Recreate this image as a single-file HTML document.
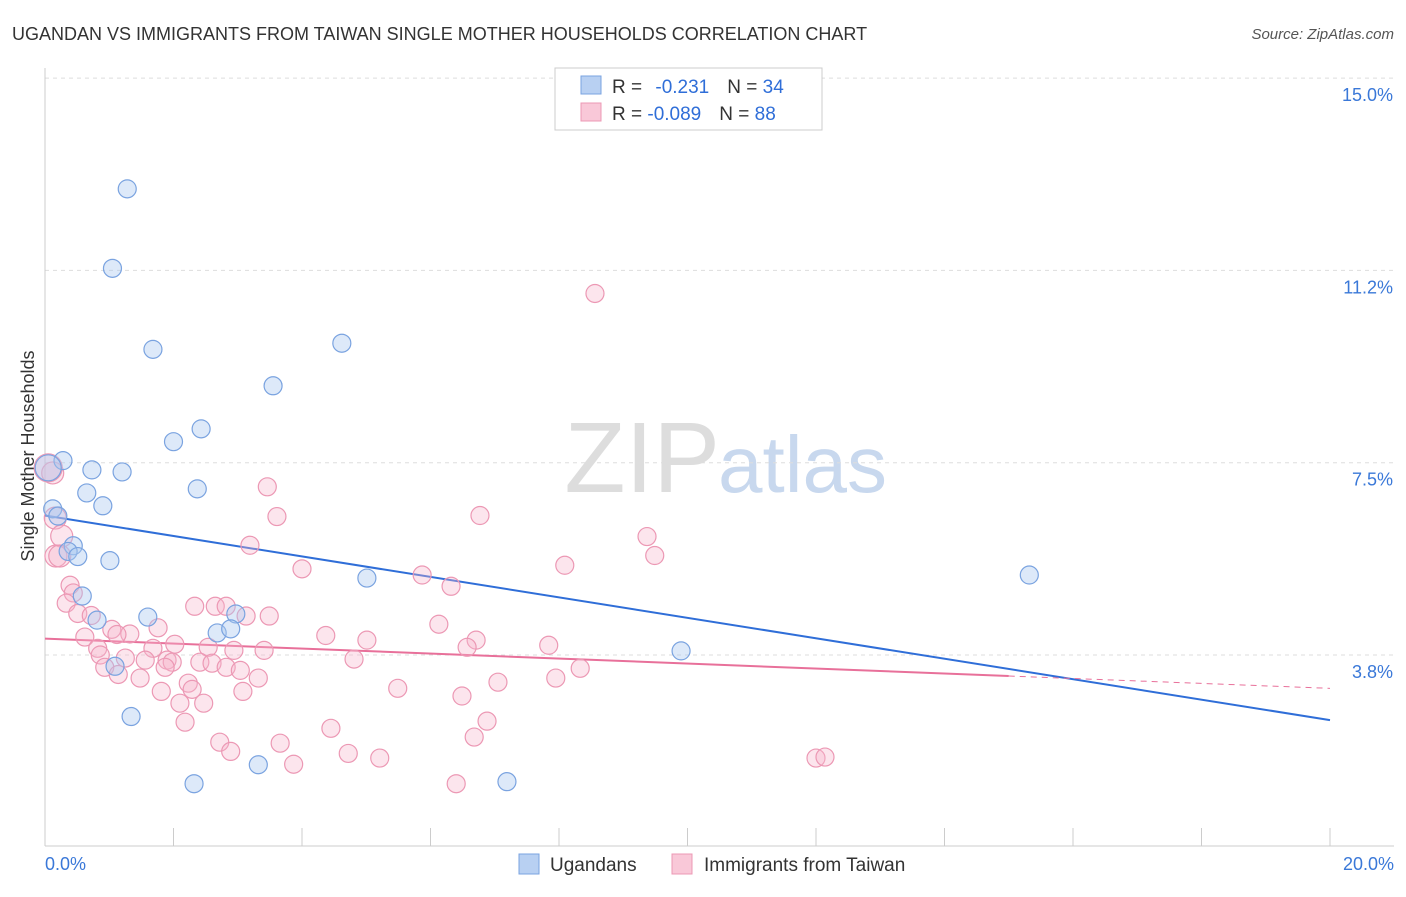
<!DOCTYPE html>
<html><head><meta charset="utf-8"><style>
body{margin:0;background:#fff;font-family:"Liberation Sans",sans-serif;}
svg text{font-family:"Liberation Sans",sans-serif;}
</style></head><body>
<svg id="chart" width="1406" height="892">
<text x="12" y="40" font-size="18" fill="#333">UGANDAN VS IMMIGRANTS FROM TAIWAN SINGLE MOTHER HOUSEHOLDS CORRELATION CHART</text>
<text x="1394" y="39" font-size="15" fill="#555" font-style="italic" text-anchor="end">Source: ZipAtlas.com</text>
<text x="720" y="492" font-size="100" fill="#ddd" text-anchor="end" font-family="Liberation Serif">ZIP</text>
<text x="718" y="492" font-size="80" fill="#c8d8ee">atlas</text>
<text x="34" y="456" font-size="18" fill="#333" text-anchor="middle" transform="rotate(-90 34 456)">Single Mother Households</text>
<g id="grid"></g><g id="axes"></g><g id="trend"></g><g id="pts"></g>
<g>
<rect x="555" y="68" width="267" height="62" fill="#fff" stroke="#ccc"/>
<rect x="581" y="76" width="20" height="18" fill="#b8d0f2" stroke="#7aa3e0"/>
<rect x="581" y="103" width="20" height="18" fill="#f9c8d8" stroke="#ec98b4"/>
<text x="612" y="93" font-size="19" fill="#333">R = <tspan fill="#2f6ed8" dx="8">-0.231</tspan><tspan dx="18" fill="#333">N = </tspan><tspan fill="#2f6ed8">34</tspan></text>
<text x="612" y="120" font-size="19" fill="#333">R = <tspan fill="#2f6ed8">-0.089</tspan><tspan dx="18" fill="#333">N = </tspan><tspan fill="#2f6ed8">88</tspan></text>
</g>
<g>
<rect x="519" y="854" width="20" height="20" fill="#b8d0f2" stroke="#7aa3e0"/>
<text x="550" y="871" font-size="19" fill="#333">Ugandans</text>
<rect x="672" y="854" width="20" height="20" fill="#f9c8d8" stroke="#ec98b4"/>
<text x="704" y="871" font-size="19" fill="#333">Immigrants from Taiwan</text>
</g>
</svg>
<script>
const xTicks=[0,2,4,6,8,10,12,14,16,18,20];
const yTicks=[3.75,7.5,11.25,15];
const yTickLabels=["3.8%","7.5%","11.2%","15.0%"];
const ugX=[1.28,1.05,1.68,4.62,3.55,2.43,2.0,0.28,0.73,1.2,2.37,0.65,0.9,0.12,0.2,0.44,0.36,0.51,1.01,5.01,15.32,0.58,1.6,0.81,2.97,2.68,2.89,1.09,9.9,1.34,3.32,2.32,7.19,0.05];
const ugY=[12.84,11.29,9.71,9.83,9.0,8.16,7.91,7.54,7.36,7.32,6.99,6.91,6.66,6.6,6.46,5.88,5.77,5.67,5.59,5.25,5.31,4.9,4.49,4.43,4.55,4.18,4.26,3.53,3.83,2.55,1.61,1.24,1.28,7.4];
const twX=[8.56,3.46,3.61,6.77,9.37,9.49,3.19,8.09,4.0,5.87,6.32,0.39,0.44,0.33,0.51,0.72,2.33,2.65,2.82,3.13,3.49,6.13,0.62,1.04,1.32,1.76,2.02,4.37,5.01,6.71,6.57,7.84,0.82,1.12,1.68,2.54,2.94,3.41,0.86,1.25,1.56,1.9,1.98,2.41,2.6,2.82,3.04,0.93,1.14,1.48,1.87,4.81,8.33,3.32,2.23,2.29,1.81,3.08,5.49,7.05,7.95,2.1,2.47,6.49,2.18,4.45,6.88,2.72,3.66,2.89,4.72,5.21,6.68,3.87,12.0,12.14,6.4,0.12,0.16,0.26,0.17,0.23,0.05];
const twY=[10.8,7.03,6.45,6.47,6.06,5.69,5.89,5.5,5.43,5.31,5.09,5.11,4.96,4.76,4.56,4.52,4.7,4.7,4.7,4.51,4.51,4.35,4.1,4.25,4.16,4.28,3.96,4.13,4.04,4.04,3.9,3.94,3.88,4.15,3.88,3.9,3.84,3.84,3.75,3.69,3.65,3.65,3.61,3.61,3.59,3.51,3.45,3.51,3.37,3.3,3.51,3.67,3.49,3.3,3.2,3.08,3.04,3.04,3.1,3.22,3.3,2.81,2.81,2.95,2.44,2.32,2.46,2.05,2.03,1.87,1.83,1.74,2.15,1.62,1.74,1.76,1.24,7.3,6.42,6.07,5.68,5.68,7.4];
const ugTrend=[6.47,2.48];
const twTrend=[4.07,3.34,3.1];
const NS="http://www.w3.org/2000/svg";
const X=v=>45+v*64.25, Y=v=>655-(v-3.75)*51.28;
function mk(t,a,p){const e=document.createElementNS(NS,t);for(const k in a)e.setAttribute(k,a[k]);document.getElementById(p).appendChild(e);return e;}
yTicks.forEach((t,i)=>{
 const g=mk('line',{x1:45,x2:1394,y1:Y(t),y2:Y(t),stroke:'#ddd','stroke-dasharray':'4,4'},'grid');
 
 
 const l=mk('text',{x:1393,y:Y(t)+23,'font-size':18,fill:'#3a78d8','text-anchor':'end'},'axes');
 l.textContent=yTickLabels[i];
 
 
});
const ax=mk('line',{x1:45,x2:1394,y1:846,y2:846,stroke:'#ccc'},'axes');


const ay=mk('line',{x1:45,x2:45,y1:68,y2:846,stroke:'#ccc'},'axes');


xTicks.forEach(t=>{
 const k=mk('line',{x1:X(t),x2:X(t),y1:828,y2:846,stroke:'#ccc'},'axes');
 
 
});
[[0,'0.0%','start',45],[20,'20.0%','end',1394]].forEach(a=>{
 const l=mk('text',{x:a[3],y:870,'font-size':18,fill:'#3a78d8','text-anchor':a[2]},'axes');
 l.textContent=a[1];
 
 
});
twX.forEach((x,i)=>{
 const r=i>=twX.length-6?(i==twX.length-1?14:11):9;
 const c=mk('circle',{cx:X(x),cy:Y(twY[i]),r:r,fill:'rgba(246,180,203,0.35)',stroke:'#ec98b4','stroke-width':1.2},'pts');
 
 
});
ugX.forEach((x,i)=>{
 const c=mk('circle',{cx:X(x),cy:Y(ugY[i]),r:i==ugX.length-1?13:9,fill:'rgba(170,199,240,0.4)',stroke:'#7aa3e0','stroke-width':1.2},'pts');
 
 
});
const t1=mk('line',{x1:X(0),y1:Y(ugTrend[0]),x2:X(20),y2:Y(ugTrend[1]),stroke:'#2f6ed8','stroke-width':2},'trend');


const t2=mk('line',{x1:X(0),y1:Y(twTrend[0]),x2:X(15),y2:Y(twTrend[1]),stroke:'#e8709a','stroke-width':2},'trend');


const t3=mk('line',{x1:X(15),y1:Y(twTrend[1]),x2:X(20),y2:Y(twTrend[2]),stroke:'#e8709a','stroke-width':1,'stroke-dasharray':'6,5'},'trend');


</script>
</body></html>
